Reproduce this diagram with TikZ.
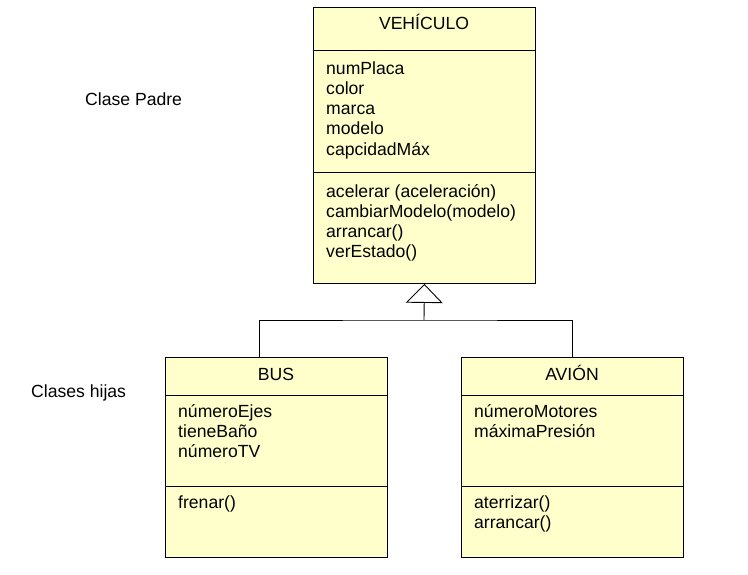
\documentclass[tikz,border=0pt]{standalone}
\usepackage{fontspec}
\setmainfont{Liberation Sans}
\usepackage{tikz}
\usetikzlibrary{calc,positioning}
\usetikzlibrary{arrows.meta}
\definecolor{umlfill}{HTML}{FFFFCC}

\begin{document}
\begin{tikzpicture}[x=1pt,y=-1pt]
        \tikzstyle{comp} = [draw=black, fill=umlfill, rectangle, inner sep=0pt, line width=0.9pt, anchor=north west, minimum width=222pt]
        \tikzstyle{ctxt} = [inner sep=0pt, align=left, anchor=base west, font=\fontsize{17.6}{20.3}\selectfont]
        \tikzstyle{ctitle} = [inner sep=0pt, anchor=base, font=\fontsize{17.6}{20.3}\selectfont]
        \tikzstyle{conn} = [line width=0.9pt]

        \useasboundingbox (0,0) rectangle (748,574);

        % clase padre (base = last line)
        \node[comp, minimum height=43pt] (vehn) at (313,7) {};
        \node[comp, minimum height=122pt] (veha) at (313,50) {};
        \node[comp, minimum height=111pt] (veho) at (313,172) {};
        \node[ctitle] (vehtitle) at (424,29) {VEHÍCULO};
        \node[ctxt] (vehattr) at (326,155.2) {numPlaca\\color\\marca\\modelo\\capcidadMáx};
        \node[ctxt] (vehops) at (326,257.9) {acelerar (aceleración)\\cambiarModelo(modelo)\\arrancar()\\verEstado()};

        % clases hijas
        \node[comp, minimum height=38pt] (busn) at (165,357) {};
        \node[comp, minimum height=91pt] (busa) at (165,395) {};
        \node[comp, minimum height=71pt] (buso) at (165,486) {};
        \node[ctitle] (bustitle) at (276,380) {BUS};
        \node[ctxt] (busattr) at (178,457.6) {númeroEjes\\tieneBaño\\númeroTV};
        \node[ctxt] (busops) at (178,508) {frenar()};

        \node[comp, minimum height=38pt] (avin) at (461,357) {};
        \node[comp, minimum height=91pt] (avia) at (461,395) {};
        \node[comp, minimum height=71pt] (avio) at (461,486) {};
        \node[ctitle] (avititle) at (572,380) {AVIÓN};
        \node[ctxt] (aviattr) at (474,437.3) {númeroMotores\\máximaPresión};
        \node[ctxt] (aviops) at (474,528.3) {aterrizar()\\arrancar()};

        \node[ctxt] (padre) at (85,105) {Clase Padre};
        \node[ctxt] (hijas) at (31,397) {Clases hijas};

        % herencia
        \coordinate (fork) at (424,320);
        \coordinate (busin) at (259,357);
        \coordinate (aviin) at (572,357);
        \draw[conn, -{Triangle[open, width=37pt, length=19pt, line width=0.9pt]}] (fork) -- (veho.south);
        \draw[conn] (busin) |- (fork) -| (aviin);
\end{tikzpicture}
\end{document}
